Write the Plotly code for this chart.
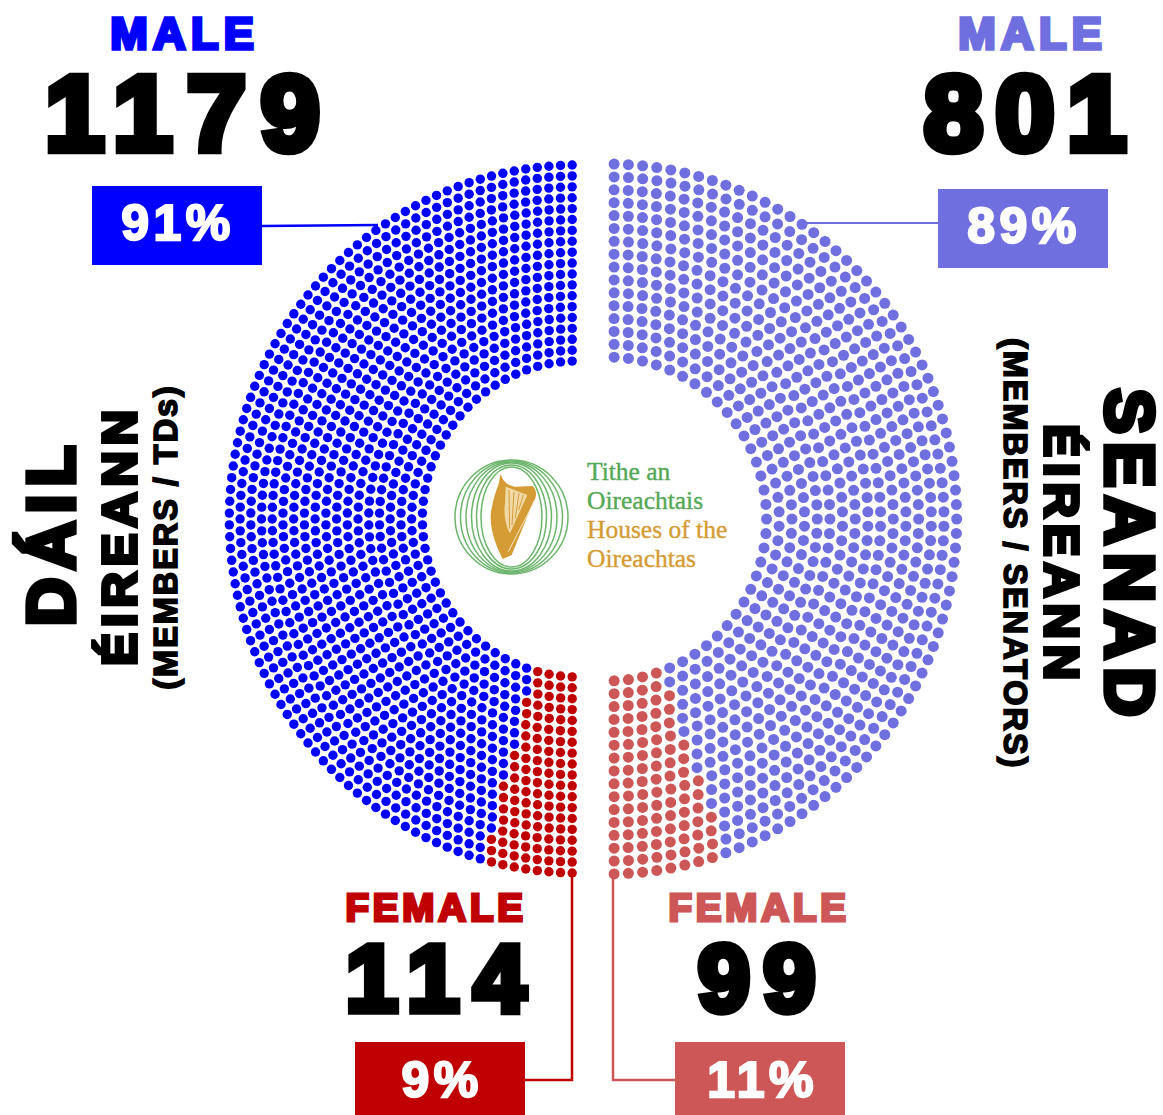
import json
import math
import plotly.graph_objects as go

# ---- data ----
dail_male = 1179
dail_female = 114
seanad_male = 801
seanad_female = 99
dail_male_pct = "91%"
dail_female_pct = "9%"
seanad_male_pct = "89%"
seanad_female_pct = "11%"
dail_rings = 19
seanad_rings = 16

BLUE = "#0000ff"
RED = "#c00000"
PERI = "#6f6fe0"
CORAL = "#cd5757"
GREEN = "#55a855"
GOLD = "#d59c35"
HEAVY = "Liberation Sans"
W, H = 1163, 1115
X_SQUEEZE = 0.985


def hemicycle(total, n_rings, r_out, r_in):
    """Parliament layout: seats per ring proportional to ring radius."""
    radii = [r_in + (r_out - r_in) * i / (n_rings - 1) for i in range(n_rings)]
    raw = [total * r / sum(radii) for r in radii]
    counts = [int(v) for v in raw]
    order = sorted(range(n_rings), key=lambda i: counts[i] - raw[i])
    for i in order[: total - sum(counts)]:
        counts[i] += 1
    seats = []
    for r, n in zip(radii, counts):
        for k in range(n):
            seats.append((r, (k + 0.5) * math.pi / n))
    seats.sort(key=lambda s: s[1])
    return seats


def chamber(male, female, n_rings, cx, cy, r_out, r_in, side, c_m, c_f, size, name):
    seats = hemicycle(male + female, n_rings, r_out, r_in)
    xs = [cx + side * X_SQUEEZE * r * math.sin(t) for r, t in seats]
    ys = [cy + r * math.cos(t) for r, t in seats]
    out = []
    for nm, col, a, b in ((name + " female", c_f, 0, female), (name + " male", c_m, female, female + male)):
        out.append(go.Scatter(x=xs[a:b], y=ys[a:b], mode="markers", name=nm, hoverinfo="skip",
                              marker=dict(color=col, size=size, line=dict(width=0))))
    return out


fig = go.Figure()
for tr in chamber(dail_male, dail_female, dail_rings, 578, 519, 354, 158, -1, BLUE, RED, 9.4, "Dáil"):
    fig.add_trace(tr)
for tr in chamber(seanad_male, seanad_female, seanad_rings, 607, 519, 355, 162, 1, PERI, CORAL, 11, "Seanad"):
    fig.add_trace(tr)

shapes = []


def box(x0, y0, x1, y1, col):
    shapes.append(dict(type="rect", x0=x0, x1=x1, y0=y0, y1=y1, fillcolor=col, line=dict(width=0), layer="below"))


def poly(pts, col, w):
    d = "M " + " L ".join(f"{x},{y}" for x, y in pts)
    shapes.append(dict(type="path", path=d, line=dict(color=col, width=w), layer="below"))


box(92, 186, 262, 265, BLUE)
box(938, 189, 1108, 268, PERI)
box(355, 1042, 525, 1115, RED)
box(675, 1042, 845, 1115, CORAL)
poly([(262, 226), (378, 225)], BLUE, 2.5)
poly([(805, 223), (938, 223)], PERI, 2)
poly([(525, 1080), (572, 1080), (572, 875)], RED, 2.5)
poly([(613, 870), (613, 1080), (675, 1080)], CORAL, 2.5)

# logo rings
for rx, ry in ((56.5, 57), (51, 56), (45.5, 55), (40, 54), (35, 52), (30.5, 50)):
    shapes.append(dict(type="circle", x0=511.5 - rx, x1=511.5 + rx, y0=517 - ry, y1=517 + ry,
                       line=dict(color="#6db56d", width=1.5), fillcolor="rgba(0,0,0,0)"))
# logo harp
z = lambda x, y: f"{440 + x / 3:.1f},{440 + y / 3:.1f}"
shapes.append(dict(type="path", fillcolor=GOLD, line=dict(width=0),
                   path=f"M {z(182,102)} C {z(190,125)} {z(200,135)} {z(225,140)} L {z(278,138)} "
                        f"C {z(292,150)} {z(290,175)} {z(280,185)} L {z(215,345)} L {z(188,357)} "
                        f"C {z(175,330)} {z(150,280)} {z(152,225)} C {z(155,195)} {z(165,160)} {z(175,135)} Z"))
shapes.append(dict(type="path", fillcolor="#f0d9a6", line=dict(width=0),
                   path=f"M {z(197,140)} L {z(262,165)} L {z(210,280)} C {z(198,260)} {z(190,220)} {z(195,190)} Z"))
for a, b in (((207, 150), (209, 265)), ((222, 155), (216, 255)), ((237, 160), (226, 235)), ((250, 165), (236, 210))):
    shapes.append(dict(type="line", x0=440 + a[0] / 3, y0=440 + a[1] / 3, x1=440 + b[0] / 3, y1=440 + b[1] / 3,
                       line=dict(color=GOLD, width=1)))
shapes.append(dict(type="line", x0=440 + 285 / 3, y0=440 + 180 / 3, x1=440 + 205 / 3, y1=440 + 335 / 3,
                   line=dict(color="#f7e7c4", width=1)))

ann = []
tweaks = []


def label(text, x, y, size, col="#000000", angle=0, family=HEAVY, weight=700, ls=0.12, stroke=0.08, anchor="center"):
    trail = ls * size / 2  # trailing letter-space shifts the visual centre
    if anchor == "center":
        if angle == 0:
            x += trail
        elif angle == 90:
            y += trail
        else:
            y -= trail
    ann.append(dict(text=text, x=x, y=y, xref="x", yref="y", xanchor=anchor, yanchor="middle",
                    showarrow=False, textangle=angle,
                    font=dict(family=family, size=size, color=col, weight=weight)))
    tweaks.append([ls, stroke])


label("MALE", 182, 33, 45, BLUE)
label(str(dail_male), 183, 113, 106, ls=0.14)
label(dail_male_pct, 176, 223, 50, "#ffffff", ls=0.09, stroke=0.045)
label("MALE", 1030, 33, 45, PERI)
label(str(seanad_male), 1025, 113, 106)
label(seanad_male_pct, 1022, 226, 50, "#ffffff", ls=0.09, stroke=0.045)
label("FEMALE", 434, 907, 38.5, RED, ls=0.1)
label(str(dail_female), 436, 978, 94, ls=0.15)
label(dail_female_pct, 440, 1080, 50, "#ffffff", ls=0.09, stroke=0.045)
label("FEMALE", 757, 907, 38.5, CORAL, ls=0.1)
label(str(seanad_female), 757, 978, 94, ls=0.14)
label(seanad_female_pct, 760, 1080, 50, "#ffffff", ls=0.09, stroke=0.045)

label("DÁIL", 51, 536, 67, angle=-90)
label("ÉIREANN", 119, 538, 49, angle=-90)
label("(MEMBERS / TDs)", 166, 538, 32.5, angle=-90, ls=0.06, stroke=0.05)
label("SEANAD", 1130, 552, 68, angle=90)
label("ÉIREANN", 1062, 552, 49, angle=90)
label("(MEMBERS / SENATORS)", 1015.5, 552, 32.5, angle=90, ls=0.06, stroke=0.05)

for txt, yy, c in (("Tithe an", 471, GREEN), ("Oireachtais", 500, GREEN),
                   ("Houses of the", 529, GOLD), ("Oireachtas", 558, GOLD)):
    label(txt, 585, yy, 25.5, c, family="Liberation Serif", weight=400, ls=0, stroke=0.015, anchor="left")

fig.update_layout(
    width=W, height=H, margin=dict(l=0, r=0, t=0, b=0), autosize=False,
    paper_bgcolor="#ffffff", plot_bgcolor="#ffffff", showlegend=False,
    xaxis=dict(range=[0, W], visible=False, fixedrange=True),
    yaxis=dict(range=[H, 0], visible=False, fixedrange=True),
    shapes=shapes, annotations=ann,
)
post = """
document.body.style.margin='0';document.documentElement.style.overflow='hidden';
var tw=%s;
document.querySelectorAll('.annotation-text').forEach(function(el,i){
  var t=tw[i]; if(!t) return;
  var fs=parseFloat(el.style.fontSize);
  el.style.letterSpacing=(t[0]*fs)+'px';
  el.style.stroke=el.style.fill;
  el.style.strokeWidth=(t[1]*fs)+'px';
  el.style.strokeLinejoin='miter';
});
""" % json.dumps(tweaks)
fig.write_html("out.html", config={"displayModeBar": False}, post_script=post)
